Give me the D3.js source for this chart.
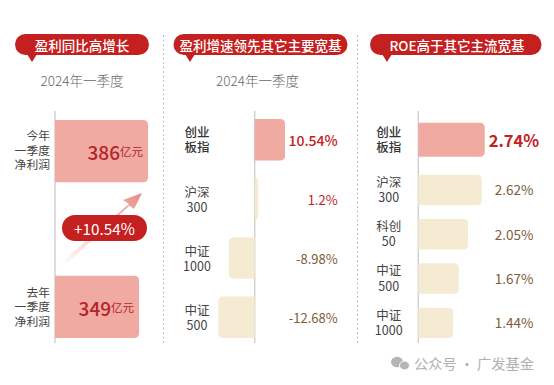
<!DOCTYPE html>
<html><head><meta charset="utf-8">
<script src="https://cdn.jsdelivr.net/npm/d3@7"></script>
<style>html,body{margin:0;padding:0;background:#fff}svg{display:block}text{font-family:"Noto Sans CJK SC","Noto Sans",sans-serif}</style>
</head><body><div id="c"></div>
<script>
const titles = ["盈利同比高增长","盈利增速领先其它主要宽基","ROE高于其它主流宽基"];
const subtitle = "2024年一季度";
const profitCats = ["今年一季度净利润","去年一季度净利润"];
const profitLabels = [["今年","一季度","净利润"],["去年","一季度","净利润"]];
const profitVals = [386,349];
const growthBadge = "+10.54%";
const growthCats = ["创业板指","沪深300","中证1000","中证500"];
const growthLabels = [["创业","板指"],["沪深","300"],["中证","1000"],["中证","500"]];
const growthVals = [10.54,1.2,-8.98,-12.68];
const roeCats = ["创业板指","沪深300","科创50","中证500","中证1000"];
const roeLabels = [["创业","板指"],["沪深","300"],["科创","50"],["中证","500"],["中证","1000"]];
const roeVals = [2.74,2.62,2.05,1.67,1.44];
const watermark = "公众号 · 广发基金";

const RED="#c4201f",PINK="#f0aaa2",BEIGE="#f4ebd2",BROWN="#7d5c3a",DARK="#444",AXIS="#cfcfcf";
const svg=d3.select("#c").append("svg").attr("width",554).attr("height",385);
const defs=svg.append("defs");
const grad=defs.append("linearGradient").attr("id","ag").attr("gradientUnits","userSpaceOnUse")
  .attr("x1",60).attr("y1",265).attr("x2",142).attr("y2",193);
grad.append("stop").attr("offset",0).attr("stop-color","#f0a8a0").attr("stop-opacity",0);
grad.append("stop").attr("offset",0.35).attr("stop-color","#f0a8a0").attr("stop-opacity",0.45);
grad.append("stop").attr("offset",1).attr("stop-color","#e68a84");

function bar(x0,x1,y,h,r){
  const p=d3.path(),s=x1>=x0?1:-1;r=Math.min(r,Math.abs(x1-x0));
  p.moveTo(x0,y);p.lineTo(x1-s*r,y);p.quadraticCurveTo(x1,y,x1,y+r);
  p.lineTo(x1,y+h-r);p.quadraticCurveTo(x1,y+h,x1-s*r,y+h);p.lineTo(x0,y+h);p.closePath();
  return p.toString();
}
function header(x,w,tail,txt,fs,tx){
  const g=svg.append("g");
  g.append("rect").attr("x",x).attr("y",34).attr("width",w).attr("height",21).attr("rx",10.5).attr("fill",RED);
  g.append("path").attr("d",`M${tail-5},54L${tail+5},54L${tail},62Z`).attr("fill",RED);
  g.append("text").attr("x",tx).attr("y",44.5).attr("text-anchor","middle").attr("dominant-baseline","central")
    .attr("font-size",fs).attr("font-weight",500).attr("fill","#fff").text(txt);
}
function sub(cx){svg.append("text").attr("x",cx).attr("y",80).attr("text-anchor","middle").attr("dominant-baseline","central")
  .attr("font-size",13.5).attr("font-weight",300).attr("fill","#666").text(subtitle);}
function axis(x){svg.append("line").attr("x1",x).attr("x2",x).attr("y1",111).attr("y2",343).attr("stroke",AXIS).attr("stroke-width",1.4);}
function lines(arr,x,cy,lh,fs,anchor,weight){
  const t=svg.append("text").attr("text-anchor",anchor).attr("font-size",fs)
    .attr("font-weight",weight).attr("fill",weight>=500?"#333":DARK);
  arr.forEach((s,i)=>t.append("tspan").attr("x",x).attr("y",cy+(i-(arr.length-1)/2)*lh+fs*0.36).text(s));
}
[163.5,357.5].forEach(x=>svg.append("line").attr("x1",x).attr("x2",x).attr("y1",35).attr("y2",343)
  .attr("stroke","#bdbdbd").attr("stroke-width",1).attr("stroke-dasharray","2 2.5"));

header(15,134,32,titles[0],13.5,82);
header(173.5,174,190,titles[1],13.5,260.5);
header(370,171.5,387,titles[2],13.5,457);
sub(82);sub(257.5);

// Panel 1
const x1=d3.scaleLinear().domain([0,386]).range([55,148]);
const y1=d3.scaleBand().domain(profitCats).range([120,338]).paddingInner(0.6);
axis(55);
profitCats.forEach((c,i)=>{
  const y=y1(c),h=y1.bandwidth(),cy=y+h/2;
  svg.append("path").attr("d",bar(x1(0),x1(profitVals[i]),y,h,5)).attr("fill",PINK);
  lines(profitLabels[i],50,cy+(i?0:-0.5),14.5,11.8,"end",400);
  const t=svg.append("text").attr("x",x1(profitVals[i])-5).attr("y",cy).attr("text-anchor","end")
    .attr("dominant-baseline","central").attr("fill","#b5232a");
  t.append("tspan").attr("font-size",19).attr("font-weight",500).text(profitVals[i]);
  t.append("tspan").attr("font-size",11.5).text("亿元");
});
svg.append("path").attr("d","M58,265L129,204L123,200L142,193L134,209L129.5,205.5L62,268Z").attr("fill","url(#ag)");
svg.append("rect").attr("x",62).attr("y",215).attr("width",85).attr("height",26).attr("rx",13).attr("fill",RED);
svg.append("text").attr("x",104.5).attr("y",228).attr("text-anchor","middle").attr("dominant-baseline","central")
  .attr("font-size",15.3).attr("fill","#fff").text(growthBadge);

// Panel 2
const x2=d3.scaleLinear().domain([0,10.54]).range([254.7,285]);
const y2=d3.scaleBand().domain(growthCats).range([119,338]).paddingInner(0.3);
axis(254.7);
growthCats.forEach((c,i)=>{
  const y=y2(c),h=y2.bandwidth(),cy=y+h/2,v=growthVals[i];
  svg.append("path").attr("d",bar(x2(0),x2(v),y,h,5)).attr("fill",i?BEIGE:PINK);
  lines(growthLabels[i],197,cy+(i?1:0.5),15.2,12.5,"middle",i?400:500);
  svg.append("text").attr("x",337.7).attr("y",cy+0.5).attr("text-anchor","end").attr("dominant-baseline","central")
    .attr("font-size",i?13:14).attr("font-weight",i?400:500).attr("fill",v>0?RED:BROWN).text(v+"%");
});

// Panel 3
const x3=d3.scaleLinear().domain([0,2.74]).range([418.3,484.7]);
const y3=d3.scaleBand().domain(roeCats).range([130.5,338]).paddingInner(0.315);
axis(418.3);
roeCats.forEach((c,i)=>{
  const h0=y3.bandwidth(),y=i?y3(c):122.7,h=i?h0:34,cy=y+h/2,v=roeVals[i];
  svg.append("path").attr("d",bar(x3(0),x3(v),y,h,5)).attr("fill",i?BEIGE:PINK);
  lines(roeLabels[i],388.7,cy,15.2,12.5,"middle",i?400:500);
  svg.append("text").attr("x",514).attr("y",cy+(i?-0.5:0.5)).attr("text-anchor","middle").attr("dominant-baseline","central")
    .attr("font-size",i?13.5:16.5).attr("font-weight",i?400:600).attr("fill",i?BROWN:RED).text(v.toFixed(2)+"%");
});

// Watermark
const wm=svg.append("g").attr("fill","#b5b5b5");
wm.append("ellipse").attr("cx",397).attr("cy",362).attr("rx",6).attr("ry",5.2);
wm.append("ellipse").attr("cx",404.5).attr("cy",365.5).attr("rx",5).attr("ry",4.4).attr("stroke","#fff").attr("stroke-width",1);
svg.append("text").attr("x",414).attr("y",363).attr("dominant-baseline","central").attr("font-size",14.2)
  .attr("fill","#b0b0b0").text(watermark);
</script></body></html>
